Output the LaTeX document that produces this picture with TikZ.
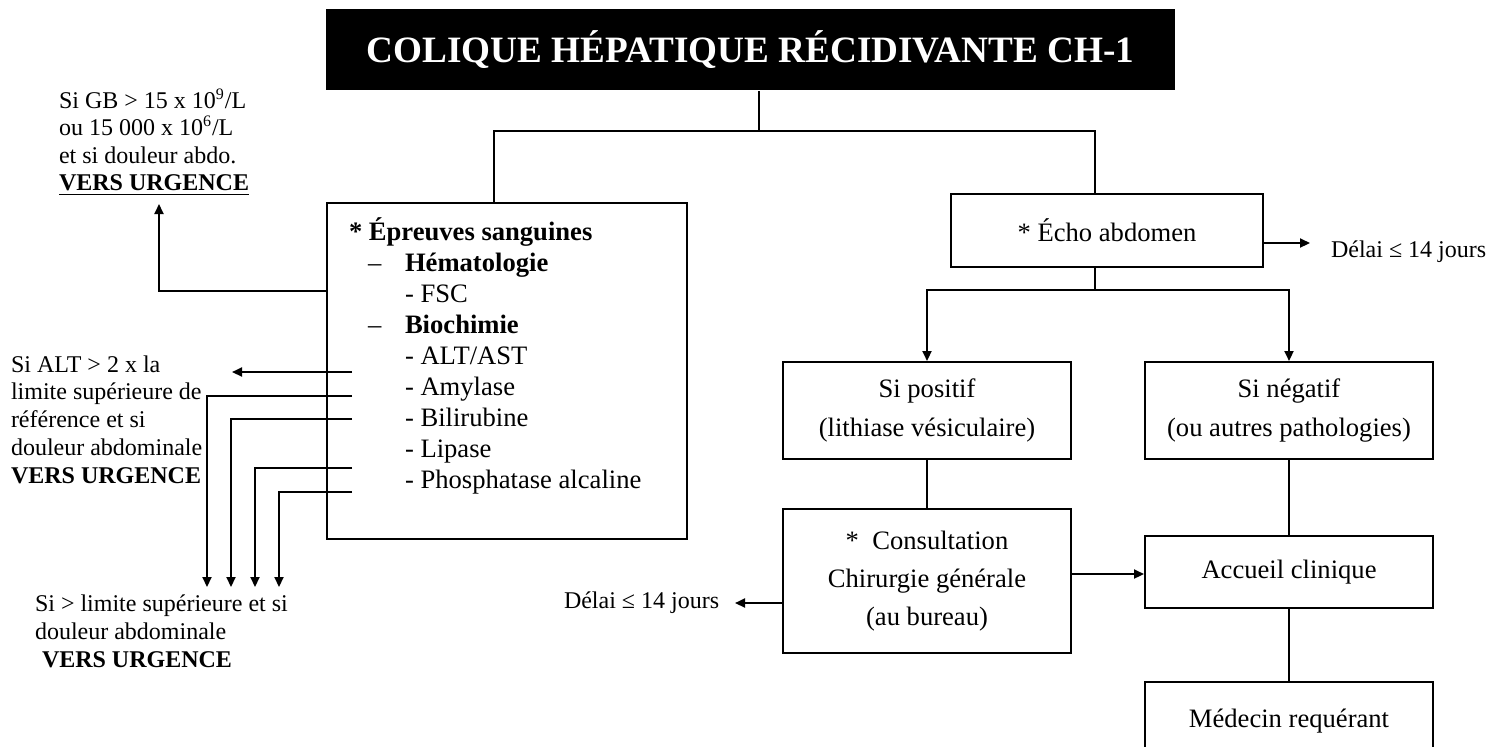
\documentclass[tikz,border=0pt]{standalone}
\usepackage{fontspec}
\setmainfont{Liberation Serif}
\usetikzlibrary{positioning,arrows.meta}

\begin{document}
\begin{tikzpicture}[x=0.5pt, y=-0.5pt, line width=1pt,
        box/.style={draw, rectangle, align=center, inner sep=0pt, minimum width=144pt,
            font=\fontsize{13.3}{19.5}\selectfont},
        note/.style={inner sep=0pt, align=left, anchor=north west},
        arr/.style={-{Triangle[length=5pt,width=4.5pt]}}]
        \useasboundingbox (0,0) rectangle (1502,746);
        \clip (0,0) rectangle (1502,746);

        % Title
        \node[fill=black, text=white, minimum width=424.5pt, minimum height=40.5pt,
            font=\fontsize{18.6}{22}\selectfont\bfseries] (title) at (750.5,49.5)
            {COLIQUE HÉPATIQUE RÉCIDIVANTE CH-1};

        % Blood tests box
        \node[draw, minimum width=180pt, minimum height=168pt] (sang) at (507,371) {};
        \node[note, font=\fontsize{13.3}{15.5}\selectfont] (sangtxt) at (348,216.3) {
            \strut\textbf{* Épreuves sanguines}\\
            \hspace*{9.5pt}\makebox[18.5pt][l]{–}\textbf{Hématologie}\\
            \hspace*{28pt}- FSC\\
            \hspace*{9.5pt}\makebox[18.5pt][l]{–}\textbf{Biochimie}\\
            \hspace*{28pt}- ALT/AST\\
            \hspace*{28pt}- Amylase\\
            \hspace*{28pt}- Bilirubine\\
            \hspace*{28pt}- Lipase\\
            \hspace*{28pt}- Phosphatase alcaline};

        % Ultrasound branch
        \node[box, minimum width=156pt, minimum height=36.5pt] (echo) at (1107,230.5) {* Écho abdomen};
        \node[box, minimum height=48.5pt] (pos) at (927,410.5) {Si positif\\(lithiase vésiculaire)};
        \node[box, minimum height=48.5pt, right=36pt of pos] (neg) {Si négatif\\(ou autres pathologies)};
        \node[box, minimum height=72pt, below=24pt of pos, font=\fontsize{13.3}{19}\selectfont] (cons)
            {*~~Consultation\\Chirurgie générale\\(au bureau)};
        \node[box, minimum height=36pt, below=37.5pt of neg] (acc) {Accueil clinique};
        \node[box, minimum height=39pt, below=36pt of acc] (med) {Médecin requérant};

        % Side notes
        \node[note, font=\fontsize{12}{13.8}\selectfont] (gb) at (58,87.7) {
            \strut Si GB > 15 x 10\textsuperscript{9}/L\\
            ou 15 000 x 10\textsuperscript{6}/L\\
            et si douleur abdo.\\
            \underline{\textbf{VERS URGENCE}}};
        \node[note, font=\fontsize{12}{13.875}\selectfont] (alt) at (10,351.6) {
            \strut Si ALT > 2 x la\\
            limite supérieure de\\
            référence et si\\
            douleur abdominale\\
            \textbf{VERS URGENCE}};
        \node[note, font=\fontsize{12}{14}\selectfont] (lim) at (34,590.4) {
            \strut Si > limite supérieure et si\\
            douleur abdominale\\
            \hspace*{3.5pt}\textbf{VERS URGENCE}};
        \node[anchor=base west, inner sep=0pt, font=\fontsize{12}{14}\selectfont] (delai1) at (1330,257) {Délai ≤ 14 jours};
        \node[anchor=base west, inner sep=0pt, font=\fontsize{12}{14}\selectfont] (delai2) at (563,608) {Délai ≤ 14 jours};

        % Tree connectors
        \coordinate (split) at (759,131);
        \draw (title.south -| split) -- (split);
        \draw ([xshift=-6.5pt]sang.north) |- (split) -| ([xshift=-6pt]echo.north);
        \coordinate (fork) at (1095,290);
        \draw ([xshift=-6pt]echo.south) -- (fork);
        \draw[arr] (fork) -| (pos.north);
        \draw[arr] (fork) -| (neg.north);
        \draw (pos) -- (cons);
        \draw (neg) -- (acc);
        \draw (acc) -- (med);
        \coordinate (carow) at (1100,574);
        \draw[arr] (cons.east |- carow) -- (acc.west |- carow);
        \coordinate (d1tip) at (1310,243);
        \draw[arr] (echo.east |- d1tip) -- (d1tip);
        \coordinate (d2tip) at (735,603);
        \draw[arr] (cons.west |- d2tip) -- (d2tip);

        % Blood test alerts
        \coordinate (gbrow) at (0,291);
        \coordinate (gbtip) at (159,204);
        \draw[arr] (sang.west |- gbrow) -| (gbtip);
        \coordinate (in0) at (352,372);
        \coordinate (alttip) at (232,372);
        \draw[arr] (in0) -- (alttip);
        \foreach \n/\yy/\xx in {1/396/207, 2/419/231, 3/468/255, 4/492/279} {
            \coordinate (in\n) at (352,\yy);
            \coordinate (tip\n) at (\xx,587);
            \draw[arr] (in\n) -| (tip\n);
        }
    \end{tikzpicture}
\end{document}
